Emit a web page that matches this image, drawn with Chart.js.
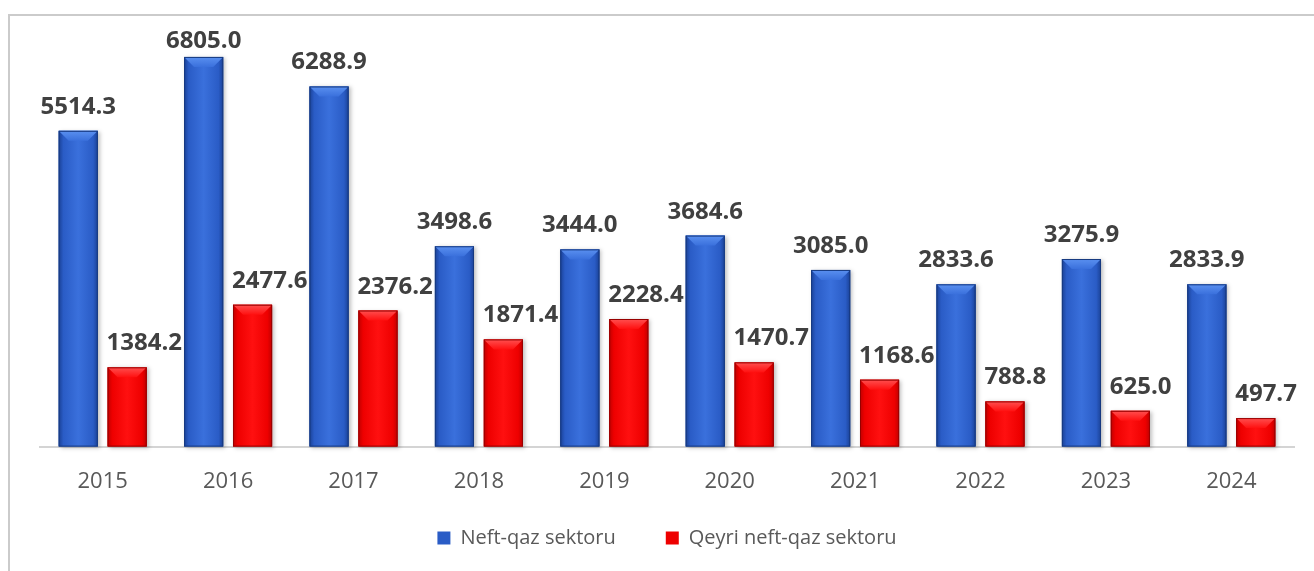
<!DOCTYPE html>
<html>
<head>
<meta charset="utf-8">
<script src="https://cdn.jsdelivr.net/npm/chart.js@4.4.1/dist/chart.umd.min.js"></script>
<style>
  html, body { margin: 0; padding: 0; background: #fff; }
  #wrap { position: relative; width: 1314px; height: 571px; }
  #frame { position: absolute; left: 8px; top: 14px; right: 0; bottom: 0;
           border-top: 2px solid #cbcbcb; border-left: 2px solid #cbcbcb; }
  canvas { position: absolute; left: 0; top: 0; }
</style>
</head>
<body>
<div id="wrap">
  <div id="frame"></div>
  <canvas id="myChart" width="1314" height="571"></canvas>
</div>
<script>
const years = ['2015', '2016', '2017', '2018', '2019', '2020', '2021', '2022', '2023', '2024'];
const neftQaz = [5514.3, 6805.0, 6288.9, 3498.6, 3444.0, 3684.6, 3085.0, 2833.6, 3275.9, 2833.9];
const qeyriNeftQaz = [1384.2, 2477.6, 2376.2, 1871.4, 2228.4, 1470.7, 1168.6, 788.8, 625.0, 497.7];
const seriesNames = ['Neft-qaz sektoru', 'Qeyri neft-qaz sektoru'];

// shading for each series: edge, mid, light, bevel, border
const shades = [
    { edge: '#1a4196', mid: '#2a5cc6', light: '#3a70dc', bevel: '#5a90f0', border: '#173a80' },
    { edge: '#c00000', mid: '#ee0000', light: '#ff1010', bevel: '#ff5050', border: '#980000' }
];

// draw the 3d looking bars on top of the plain ones
const barShading = {
    id: 'barShading',
    afterDatasetsDraw(chart) {
        const ctx = chart.ctx;
        chart.data.datasets.forEach(function(ds, di) {
            const s = shades[di];
            chart.getDatasetMeta(di).data.forEach(function(bar) {
                const p = bar.getProps(['x', 'y', 'base', 'width'], true);
                const l = p.x - p.width / 2, r = p.x + p.width / 2;
                const t = p.y, b = p.base, w = p.width;
                ctx.save();
                ctx.shadowColor = 'rgba(0,0,0,0.25)';
                ctx.shadowBlur = 4;
                ctx.shadowOffsetX = 2;
                ctx.shadowOffsetY = 1;
                const g = ctx.createLinearGradient(l, 0, r, 0);
                g.addColorStop(0, s.edge);
                g.addColorStop(0.12, s.mid);
                g.addColorStop(0.5, s.light);
                g.addColorStop(0.88, s.mid);
                g.addColorStop(1, s.edge);
                ctx.fillStyle = g;
                ctx.fillRect(l, t, w, b - t);
                ctx.restore();

                // top bevel
                const bv = Math.min(10, (b - t) / 2);
                const gb = ctx.createLinearGradient(0, t, 0, t + bv);
                gb.addColorStop(0, s.bevel);
                gb.addColorStop(1, s.light);
                ctx.fillStyle = gb;
                ctx.beginPath();
                ctx.moveTo(l, t);
                ctx.lineTo(r, t);
                ctx.lineTo(r - bv, t + bv);
                ctx.lineTo(l + bv, t + bv);
                ctx.closePath();
                ctx.fill();

                ctx.strokeStyle = s.border;
                ctx.lineWidth = 1;
                ctx.strokeRect(l + 0.5, t + 0.5, w - 1, b - t - 1);
            });
        });
    }
};

// value labels above bars
const valueLabels = {
    id: 'valueLabels',
    afterDraw(chart) {
        const ctx = chart.ctx;
        ctx.save();
        ctx.font = 'bold 24px "Open Sans"';
        ctx.fillStyle = '#404040';
        ctx.textBaseline = 'alphabetic';
        chart.data.datasets.forEach(function(ds, di) {
            chart.getDatasetMeta(di).data.forEach(function(bar, i) {
                const txt = ds.data[i].toFixed(1);
                const yText = Math.max(bar.y - 17, chart.chartArea.top + 28);
                if (di === 0) {
                    ctx.textAlign = 'center';
                    ctx.fillText(txt, bar.x, yText);
                } else {
                    ctx.textAlign = 'left';
                    ctx.fillText(txt, bar.x - bar.width / 2 - 1, yText);
                }
            });
        });
        ctx.restore();
    }
};

// legend: keep the room it takes, but draw the row higher
const legendFit = {
    id: 'legendFit',
    beforeInit(chart) {
        const fit = chart.legend.fit;
        chart.legend.fit = function() {
            fit.bind(chart.legend)();
            this.height -= 26;
        };
    },
    afterLayout(chart) {
        const lg = chart.legend;
        lg.top -= 39;
        lg.height = lg.bottom - lg.top;
    }
};

window.addEventListener('load', function() {
    const ctx = document.getElementById('myChart');
    new Chart(ctx, {
        type: 'bar',
        data: {
            labels: years,
            datasets: [{
                label: seriesNames[0],
                data: neftQaz,
                backgroundColor: '#2a5cc6'
            }, {
                label: seriesNames[1],
                data: qeyriNeftQaz,
                backgroundColor: '#ee0000'
            }]
        },
        options: {
            responsive: false,
            animation: false,
            categoryPercentage: 0.78,
            barPercentage: 0.8,
            layout: {
                padding: { left: 40, right: 20, top: 20, bottom: 0 }
            },
            scales: {
                x: {
                    grid: { display: false, drawTicks: false },
                    border: { display: true, color: '#d4d4d4', width: 2 },
                    ticks: {
                        color: '#595959',
                        padding: 22,
                        font: { family: 'Open Sans', size: 22 }
                    }
                },
                y: {
                    display: false,
                    min: 0,
                    max: 7450
                }
            },
            plugins: {
                legend: {
                    position: 'bottom',
                    labels: {
                        boxWidth: 13,
                        boxHeight: 13,
                        padding: 50,
                        color: '#595959',
                        font: { family: 'Open Sans', size: 20 }
                    }
                },
                tooltip: { enabled: false }
            }
        },
        plugins: [legendFit, barShading, valueLabels]
    });
});
</script>
</body>
</html>
